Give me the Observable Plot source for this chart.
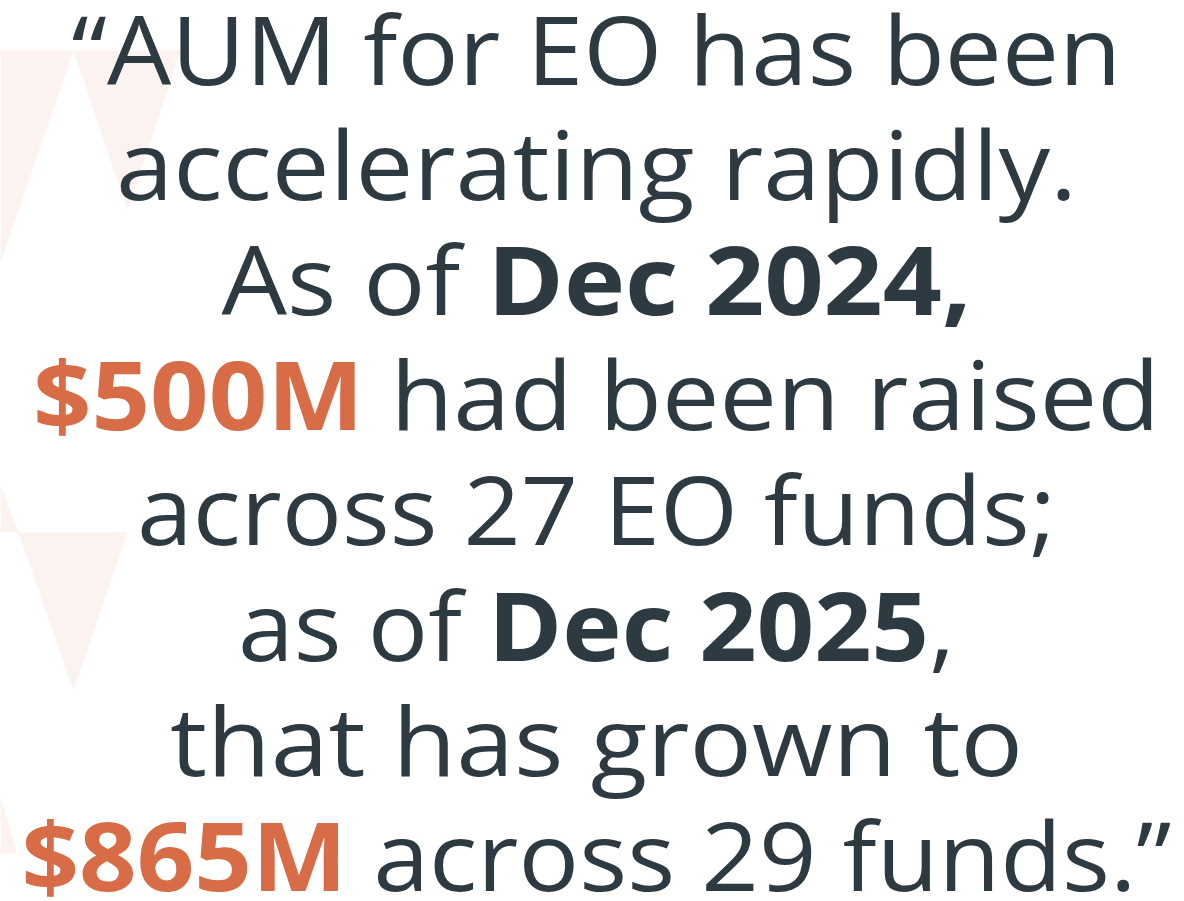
<!DOCTYPE html>
<html>
<head>
<meta charset="utf-8">
<script src="https://cdn.jsdelivr.net/npm/d3@7"></script>
<script src="https://cdn.jsdelivr.net/npm/@observablehq/plot@0.6"></script>
<style>
  html, body { margin: 0; padding: 0; background: #ffffff; overflow: hidden; }
  #chart svg { display: block; }
</style>
</head>
<body>
<div id="chart"></div>
<script>
// ---- text content (segments per line: [text, style]) ----
const line1 = [["\u201CAUM for EO has been", "regular"]];
const line2 = [["accelerating rapidly.", "regular"]];
const line3 = [["As of ", "regular"], ["Dec 2024,", "bold"]];
const line4 = [["$500M", "accent"], [" had been raised", "regular"]];
const line5 = [["across 27 EO funds;", "regular"]];
const line6 = [["as of ", "regular"], ["Dec 2025", "bold"], [",", "regular"]];
const line7 = [["that has grown to", "regular"]];
const line8 = [["$865M", "accent"], [" across 29 funds.\u201D", "regular"]];
const quoteLines = [line1, line2, line3, line4, line5, line6, line7, line8];

// ---- faint background triangles (decoration) ----
const triangleIds = ["t1", "t2", "t3", "t4", "t5"];
const triangleXs = [[73, 180, 127], [0, 73, 0], [18, 127, 73], [0, 18, 0], [0, 17, 0]];
const triangleYs = [[50, 50, 210], [50, 50, 262], [532, 532, 690], [485, 532, 532], [797, 853, 853]];

// ---- layout / style ----
const W = 1184, H = 901;
const CENTER_X = 596, FIRST_BASELINE = 84, LINE_STEP = 115.2;
const FONT = "'Open Sans', 'DejaVu Sans', sans-serif";
const FONT_SIZE = 95;
const TEXT_COLOR = "#2e3a41", ACCENT = "#d86c46", TINT = "#fcf3f0";
const TARGET_WIDTHS = [1050, 961, 750, 1127, 919, 717, 853, 1150];

const rows = quoteLines.map((segs, i) => ({i, plain: segs.map(s => s[0]).join(""), segs}));
const triPoints = triangleIds.flatMap((id, k) =>
  triangleXs[k].map((x, j) => ({id, x, y: triangleYs[k][j]})));

const plot = Plot.plot({
  width: W,
  height: H,
  margin: 0,
  style: {background: "transparent", overflow: "visible"},
  x: {domain: [0, W], range: [0, W], axis: null},
  y: {domain: [0, H], range: [0, H], axis: null},
  marks: [
    Plot.line(triPoints, {x: "x", y: "y", z: "id", fill: TINT, stroke: "none", curve: "linear-closed"}),
    Plot.text(rows, {
      x: () => CENTER_X,
      y: d => FIRST_BASELINE + d.i * LINE_STEP,
      text: "plain",
      fontSize: FONT_SIZE,
      fontFamily: FONT,
      fill: TEXT_COLOR,
      textAnchor: "middle",
      lineAnchor: "bottom",
      className: "quote"
    })
  ]
});
document.getElementById("chart").appendChild(plot);

// rich text: replace each line's content by styled tspans, and fit width
const ns = "http://www.w3.org/2000/svg";
const texts = plot.querySelectorAll("g.quote text");
texts.forEach((t, idx) => {
  const row = rows[idx];
  while (t.firstChild) t.removeChild(t.firstChild);
  t.setAttribute("font-weight", "400");
  row.segs.forEach(([s, style]) => {
    const ts = document.createElementNS(ns, "tspan");
    ts.textContent = s;
    if (style === "bold") { ts.setAttribute("font-weight", "700"); }
    if (style === "accent") { ts.setAttribute("font-weight", "700"); ts.setAttribute("fill", ACCENT); }
    ts.style.whiteSpace = "pre";
    t.appendChild(ts);
  });
  t.style.whiteSpace = "pre";
  const natural = t.getComputedTextLength();
  const target = TARGET_WIDTHS[idx];
  if (Math.abs(natural - target) > 4) {
    t.setAttribute("textLength", target);
    t.setAttribute("lengthAdjust", "spacingAndGlyphs");
  }
});
</script>
</body>
</html>
